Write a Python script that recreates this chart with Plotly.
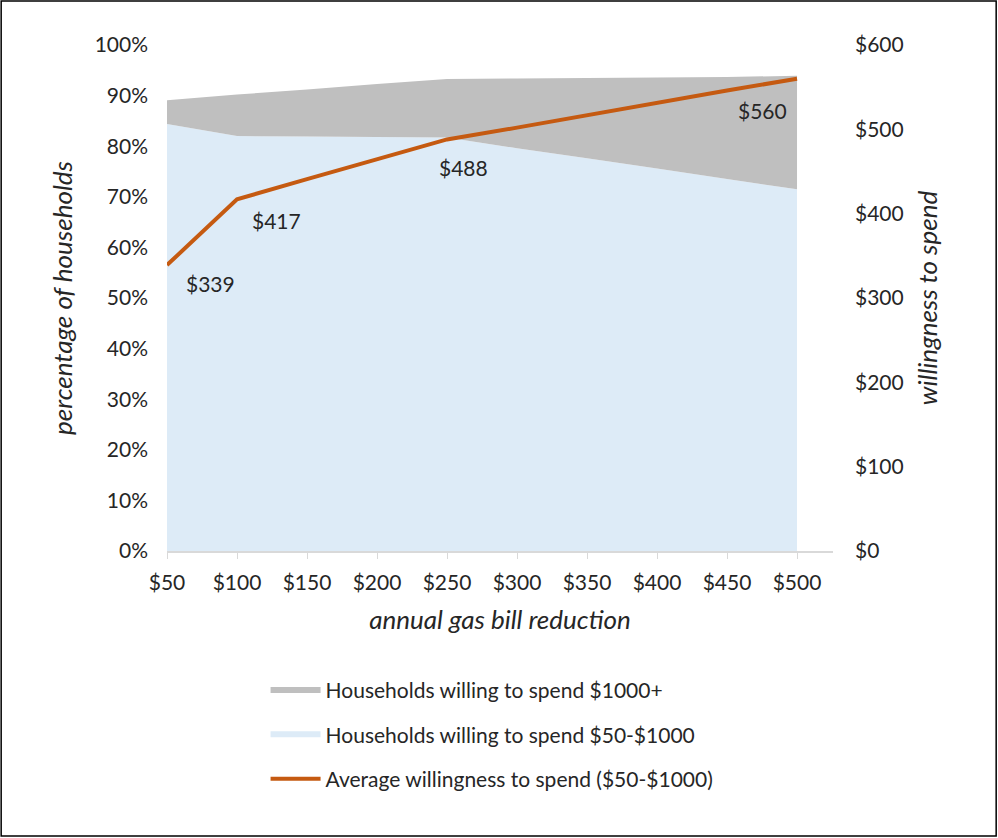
import plotly.graph_objects as go

BILL_REDUCTION = [50, 100, 150, 200, 250, 300, 350, 400, 450, 500]
TICK_LABELS = ["$50", "$100", "$150", "$200", "$250", "$300", "$350", "$400", "$450", "$500"]
SHARE_50_1000 = [84.4, 82.0, 81.9, 81.8, 81.7, 79.6, 77.6, 75.6, 73.5, 71.5]
SHARE_1000_PLUS = [4.7, 8.2, 9.3, 10.5, 11.6, 13.8, 15.9, 18.0, 20.2, 22.4]
AVG_SPEND = [339, 417, 441, 465, 488, 502, 517, 532, 546, 560]

# which points get a value label, and the pixel nudge of each label
LABELLED = [0, 1, 4, 9]
LABEL_SHIFT = [(43, -18), (39, -21), (16, -28), (-35, -32)]

ORANGE = "#C55A11"
GREY = "#BFBFBF"
BLUE = "#DDEBF7"
TEXT = "#262626"
FONT = "Lato, sans-serif"

fig = go.Figure()
fig.add_trace(go.Scatter(
    x=BILL_REDUCTION, y=SHARE_50_1000, stackgroup="share", mode="none",
    fillcolor=BLUE, name="Households willing to spend $50-$1000",
    legendrank=2, legendgroup="b",
))
fig.add_trace(go.Scatter(
    x=BILL_REDUCTION, y=SHARE_1000_PLUS, stackgroup="share", mode="none",
    fillcolor=GREY, name="Households willing to spend $1000+",
    legendrank=1, legendgroup="a",
))
fig.add_trace(go.Scatter(
    x=BILL_REDUCTION, y=AVG_SPEND, yaxis="y2", mode="lines",
    line=dict(color=ORANGE, width=4),
    name="Average willingness to spend ($50-$1000)",
    legendrank=3, legendgroup="c",
))

for i, (dx, dy) in zip(LABELLED, LABEL_SHIFT):
    fig.add_annotation(
        x=BILL_REDUCTION[i], y=AVG_SPEND[i], xref="x", yref="y2",
        text=f"${AVG_SPEND[i]}", showarrow=False,
        xanchor="center", yanchor="middle", xshift=dx, yshift=dy,
        font=dict(size=21, color=TEXT, family=FONT),
    )

fig.update_layout(
    width=998, height=838,
    paper_bgcolor="white", plot_bgcolor="white",
    font=dict(family=FONT, size=21, color=TEXT),
    margin=dict(l=167, r=165, t=45, b=287),
    showlegend=True,
    legend=dict(
        x=0.148, xanchor="left", y=-0.235, yanchor="top",
        orientation="v", tracegroupgap=14, font=dict(size=21, color=TEXT),
        bgcolor="rgba(0,0,0,0)", itemwidth=50,
    ),
    xaxis=dict(
        range=[50, 525.7], tickvals=BILL_REDUCTION, ticktext=TICK_LABELS,
        showgrid=False, zeroline=False, showline=True, linecolor="#D9D9D9", linewidth=1.5,
        ticks="outside", tickcolor="#D9D9D9", ticklen=6, ticklabelstandoff=6,
        title=dict(text="<i>annual gas bill reduction</i>", font=dict(size=26), standoff=18),
    ),
    yaxis=dict(
        range=[0, 100], dtick=10, ticksuffix="%", showgrid=False, zeroline=False,
        ticks="", ticklabelstandoff=18,
        title=dict(text="<i>percentage of households</i>", font=dict(size=26), standoff=14),
    ),
    yaxis2=dict(
        range=[0, 600], dtick=100, tickprefix="$", overlaying="y", side="right",
        showgrid=False, zeroline=False, ticks="", ticklabelstandoff=21,
        title=dict(text="<i>willingness to spend</i>", font=dict(size=26), standoff=16),
    ),
)

# outer frame around the whole picture
fig.add_shape(type="rect", xref="paper", yref="paper",
              x0=-0.249, x1=1.245, y0=-0.563, y1=1.087,
              line=dict(color="black", width=1.5), fillcolor="rgba(0,0,0,0)", layer="below")

fig.write_html("out.html", config={"displayModeBar": False},
               post_script="document.body.style.margin='0';")
